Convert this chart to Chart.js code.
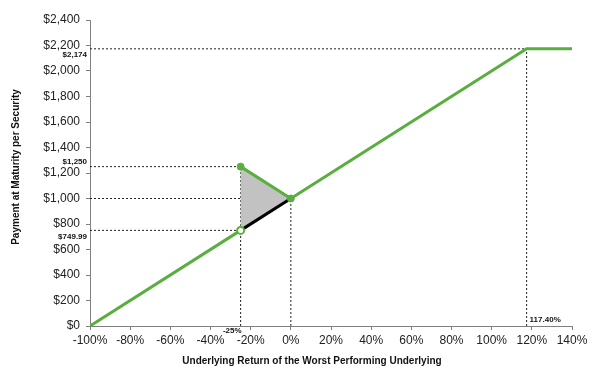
<!DOCTYPE html>
<html>
<head>
<meta charset="utf-8">
<script src="https://cdn.jsdelivr.net/npm/chart.js@4/dist/chart.umd.min.js"></script>
<style>
html,body{margin:0;padding:0;background:#fff;}
#wrap{width:599px;height:376px;position:relative;}
</style>
</head>
<body>
<div id="wrap"><canvas id="c" width="599" height="376"></canvas></div>
<script>
// ---- data ----
const xTicks = [-100,-80,-60,-40,-20,0,20,40,60,80,100,120,140];
const yTicks = [0,200,400,600,800,1000,1200,1400,1600,1800,2000,2200,2400];
const payoffLower = [[-100,0],[-25,749.99]];           // green, below barrier
const payoffUpper = [[0,1000],[117.40,2174],[140,2174]]; // green, above 0%
const digitalLeg  = [[-25,1250],[0,1000]];             // green, contingent
const blackLeg    = [[-25,749.99],[0,1000]];            // black segment
const triangle    = [[-25,749.99],[-25,1250],[0,1000],[-25,749.99]];
const refPoints   = {barrier:-25, cap:117.40, capValue:2174, digital:1250, low:749.99, par:1000};
const annotations = [
  {text:'$2,174', x:-100, y:2174, pos:'belowLeft'},
  {text:'$1,250', x:-100, y:1250, pos:'aboveLeft'},
  {text:'$749.99', x:-100, y:749.99, pos:'belowLeft'},
  {text:'-25%', x:-25, y:0, pos:'underLeft'},
  {text:'117.40%', x:117.40, y:0, pos:'aboveRight'}
];
const xTitle = 'Underlying Return of the Worst Performing Underlying';
const yTitle = 'Payment at Maturity per Security';

const green = '#5aae3f';
const toPts = a => a.map(p => ({x:p[0], y:p[1]}));
const dashStyle = {borderColor:'#222', borderWidth:1, borderDash:[2,2], pointRadius:0, showLine:true, fill:false, order:10};
const r = refPoints;
const dashSegs = [
  [[-100,r.capValue],[r.cap,r.capValue]],
  [[r.cap,0],[r.cap,r.capValue]],
  [[-100,r.digital],[r.barrier,r.digital]],
  [[-100,r.par],[0,r.par]],
  [[-100,r.low],[r.barrier,r.low]],
  [[r.barrier,0],[r.barrier,r.digital]],
  [[0,0],[0,r.par]]
];

const datasets = [];
dashSegs.forEach(s => datasets.push(Object.assign({data:toPts(s)}, dashStyle)));
datasets.push({data:toPts(triangle), showLine:true, fill:'shape', backgroundColor:'#c2c2c2', borderWidth:0, borderColor:'rgba(0,0,0,0)', pointRadius:0, order:9});
datasets.push({data:toPts(blackLeg), showLine:true, borderColor:'#000', borderWidth:3, pointRadius:0, order:3});
datasets.push({data:toPts(payoffLower), showLine:true, borderColor:green, borderWidth:3, pointRadius:0, order:2});
datasets.push({data:toPts(payoffUpper), showLine:true, borderColor:green, borderWidth:3, pointRadius:0, order:2});
datasets.push({data:toPts(digitalLeg), showLine:true, borderColor:green, borderWidth:3, pointRadius:0, order:2});
// markers
datasets.push({data:toPts([digitalLeg[0], digitalLeg[1]]), showLine:false, pointRadius:3.5, pointBackgroundColor:green, pointBorderColor:green, pointBorderWidth:1, order:1});
datasets.push({data:toPts([payoffLower[1]]), showLine:false, pointRadius:3.5, pointBackgroundColor:'#fff', pointBorderColor:green, pointBorderWidth:2, order:0});

const textPlugin = {
  id:'texts',
  afterDraw(chart){
    const ctx = chart.ctx, xs = chart.scales.x, ys = chart.scales.y, ca = chart.chartArea;
    ctx.save();
    ctx.fillStyle = '#111';
    ctx.font = 'bold 8px "Liberation Sans", Arial, sans-serif';
    annotations.forEach(a => {
      let px = xs.getPixelForValue(a.x), py = ys.getPixelForValue(a.y);
      if (a.pos === 'belowLeft'){ ctx.textAlign='right'; ctx.textBaseline='top'; ctx.fillText(a.text, px-3, py+2); }
      else if (a.pos === 'aboveLeft'){ ctx.textAlign='right'; ctx.textBaseline='bottom'; ctx.fillText(a.text, px-3, py-1); }
      else if (a.pos === 'underLeft'){ ctx.textAlign='right'; ctx.textBaseline='top'; ctx.fillText(a.text, px+1, py+1); }
      else if (a.pos === 'aboveRight'){ ctx.textAlign='left'; ctx.textBaseline='bottom'; ctx.fillText(a.text, px+3, py-2); }
    });
    ctx.font = 'bold 10px "Liberation Sans", Arial, sans-serif';
    ctx.fillStyle = '#111';
    ctx.textAlign='center'; ctx.textBaseline='middle';
    ctx.fillText(xTitle, 312, 361);
    ctx.translate(16, 167);
    ctx.rotate(-Math.PI/2);
    ctx.fillText(yTitle, 0, 0);
    ctx.restore();
  }
};

new Chart(document.getElementById('c'), {
  type:'scatter',
  data:{datasets},
  options:{
    responsive:false,
    animation:false,
    layout:{padding:{left:0, right:27, top:20, bottom:0}},
    plugins:{legend:{display:false}, tooltip:{enabled:false}},
    scales:{
      x:{
        type:'linear', min:xTicks[0], max:xTicks[xTicks.length-1],
        afterBuildTicks: s => { s.ticks = xTicks.map(v => ({value:v})); },
        afterFit: s => { s.height = 50; },
        grid:{drawOnChartArea:false, drawTicks:true, tickLength:4, color:'#808080'},
        border:{color:'#808080', width:1},
        ticks:{padding:3, color:'#222', font:{family:'"Liberation Sans", Arial, sans-serif', size:12}, maxRotation:0, autoSkip:false,
          callback: v => v + '%'}
      },
      y:{
        type:'linear', min:yTicks[0], max:yTicks[yTicks.length-1],
        afterBuildTicks: s => { s.ticks = yTicks.map(v => ({value:v})); },
        afterFit: s => { s.width = 90; },
        grid:{drawOnChartArea:false, drawTicks:true, tickLength:4, color:'#808080'},
        border:{color:'#808080', width:1},
        ticks:{padding:6, color:'#222', font:{family:'"Liberation Sans", Arial, sans-serif', size:12},
          callback: v => '$' + v.toLocaleString('en-US')}
      }
    }
  },
  plugins:[textPlugin]
});
</script>
</body>
</html>
